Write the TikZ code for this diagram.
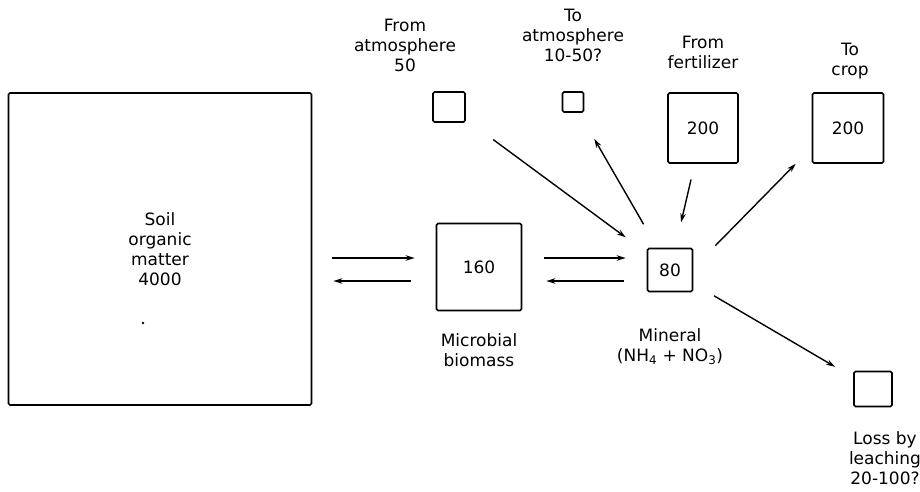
\documentclass[tikz,border=0pt]{standalone}
\usepackage{fontspec}
\setmainfont{DejaVu Sans}
\usetikzlibrary{positioning, arrows.meta}

\tikzset{
  pool/.style={draw, line width=1.7pt, rounded corners=1.5pt, inner sep=0pt},
  lbl/.style={align=center, inner sep=0pt},
  flow/.style={-{Stealth[length=9pt,width=5.5pt]}, line width=1.4pt},
}

\begin{document}
\begin{tikzpicture}[x=1pt, y=-1pt, font=\fontsize{17}{20}\selectfont]
  \useasboundingbox (0,0) rectangle (920,492);

  % pools of nitrogen
  \node[pool, minimum width=303pt, minimum height=312pt, align=center] (soil) at (160,249) {Soil\\organic\\matter\\4000};
  \node[pool, minimum width=85pt, minimum height=87pt] (mb) at (479,267) {160};
  \node[pool, minimum width=45pt, minimum height=43pt] (min) at (670,270) {80};
  \node[pool, minimum width=32pt, minimum height=30pt] (fatm) at (449,107) {};
  \node[pool, minimum width=21pt, minimum height=20pt] (tatm) at (573,102) {};
  \node[pool, minimum width=70pt, minimum height=70pt] (fert) at (703,128) {200};
  \node[pool, minimum width=71pt, minimum height=70pt] (crop) at (848,128) {200};
  \node[pool, minimum width=38pt, minimum height=35pt] (leach) at (873,389) {};
  \fill (143,323) circle (1.3pt);

  % labels
  \node[lbl, above=19pt of fatm, xshift=-44pt] (fatmL) {From\\atmosphere\\50};
  \node[lbl, above=29pt of tatm] (tatmL) {To\\atmosphere\\10-50?};
  \node[lbl, above=23pt of fert] (fertL) {From\\fertilizer};
  \node[lbl, above=13pt of crop, xshift=2pt] (cropL) {To\\crop};
  \node[lbl, below=22pt of mb] (mbL) {Microbial\\biomass};
  \node[lbl, below=36pt of min] (minL) {Mineral\\(NH\textsubscript{4} + NO\textsubscript{3})};
  \node[lbl, below=24pt of leach, xshift=12pt] (leachL) {Loss by\\leaching\\20-100?};

  % flows
  \draw[flow, shorten <=20pt, shorten >=21pt] ([yshift=9pt]soil.east |- mb.west) -- ([yshift=9pt]mb.west);
  \draw[flow, shorten <=25pt, shorten >=21pt] ([yshift=-14pt]mb.west) -- ([yshift=-14pt]soil.east |- mb.west);
  \draw[flow, shorten <=22pt, shorten >=21pt] ([yshift=9pt]mb.east) -- ([yshift=9pt]min.west |- mb.east);
  \draw[flow, shorten <=23pt, shorten >=24pt] ([yshift=-14pt]min.west |- mb.east) -- ([yshift=-14pt]mb.east);
  \draw[flow, shorten <=34pt, shorten >=26pt] (fatm) -- (min);
  \draw[flow, shorten <=27pt, shorten >=30pt] (min) -- (tatm);
  \draw[flow, shorten <=16pt, shorten >=26pt] (fert) -- (min);
  \draw[flow] ([xshift=22pt,yshift=2pt]min.north east) -- ([xshift=-16pt]crop.south west);
  \draw[flow, shorten <=24pt, shorten >=21pt] (min) -- (leach);
\end{tikzpicture}
\end{document}
